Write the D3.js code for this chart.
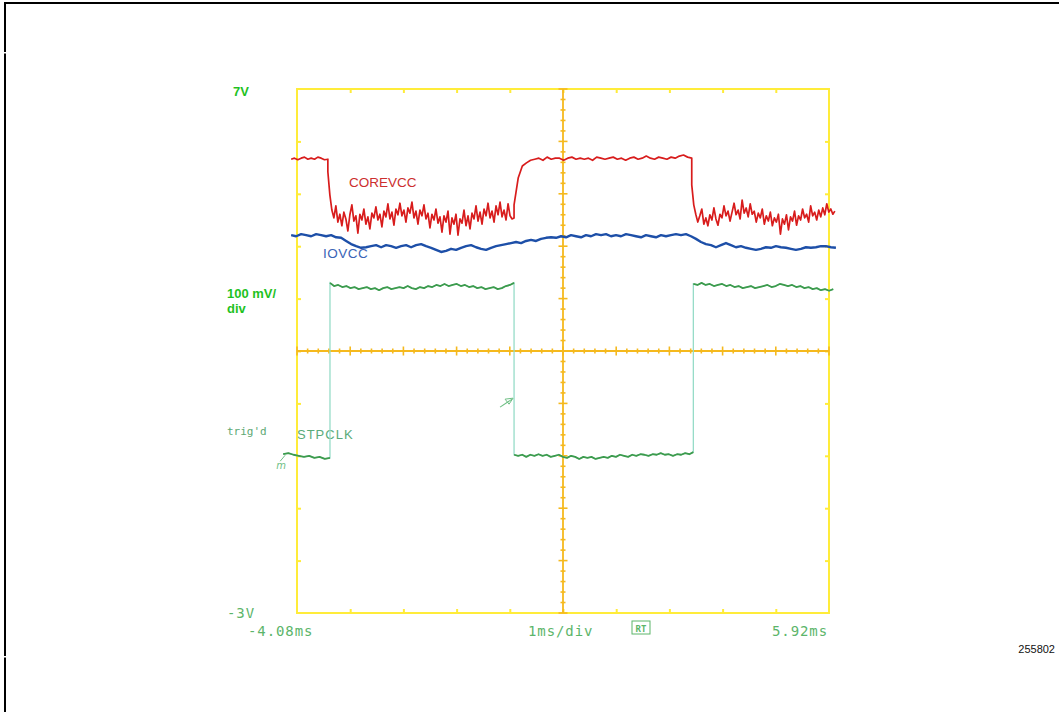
<!DOCTYPE html>
<html>
<head>
<meta charset="utf-8">
<script src="https://cdn.jsdelivr.net/npm/d3@7"></script>
<style>
  html, body { margin: 0; padding: 0; background: #fff; }
  svg { display: block; }
</style>
</head>
<body>
<svg id="scope" width="1059" height="712"></svg>
<script>
// ---- sweep and screen settings ----
const sweepStartMs = -4.08;
const msPerDiv = 1;
const hDivisions = 10;
const voltRange = [-3, 7];              // bottom / top of screen, 1 V per division
const centreTimeMs = 0.92;
const centreVolt = 2;
const timeLabels = ["-4.08ms", "1ms/div", "5.92ms"];
const voltLabels = ["7V", "-3V"];
const sensitivityLabel = ["100 mV/", "div"];
const trigLabel = "trig'd";
const trigLevel = 1.1;                  // STPCLK falling-edge trigger level
const figureId = "255802";

// ---- COREVCC: break times (ms) and the samples between consecutive breaks (V) ----
const coreVccBreaks = [-4.19, -3.50, 0.00, 3.34, 6.03];
const coreVccRun1 = [5.66,5.68,5.65,5.68,5.70,5.66,5.68,5.66,5.70,5.68,5.65,5.66];
const coreVccRun2 = [5.42,4.98,4.69,4.54,4.77,4.46,4.61,4.39,4.65,4.52,4.29,4.60,4.79,4.48,4.58,4.25,
  4.61,4.50,4.71,4.42,4.56,4.33,4.63,4.54,4.75,4.50,4.61,4.37,4.67,4.56,4.81,4.52,4.65,4.40,4.71,4.60,
  4.82,4.58,4.69,4.46,4.73,4.63,4.84,4.54,4.67,4.42,4.69,4.58,4.79,4.52,4.63,4.35,4.61,4.50,4.71,4.44,
  4.56,4.27,4.58,4.46,4.67,4.23,4.54,4.42,4.61,4.21,4.52,4.44,4.69,4.39,4.58,4.33,4.63,4.52,4.77,4.48,
  4.65,4.42,4.71,4.58,4.82,4.54,4.67,4.46,4.77,4.60,4.84,4.56,4.69,4.50,4.81,4.58,4.52,4.54];
const coreVccRun3 = [4.79,5.30,5.53,5.59,5.64,5.66,5.68,5.64,5.70,5.66,5.68,5.68,5.64,5.68,5.70,5.66,
  5.68,5.66,5.68,5.64,5.70,5.68,5.66,5.68,5.70,5.66,5.68,5.64,5.68,5.70,5.66,5.68,5.72,5.68,5.66,5.70,
  5.68,5.66,5.70,5.68,5.72,5.74,5.70,5.68];
const coreVccRun4 = [5.17,4.79,4.61,4.46,4.58,4.71,4.42,4.54,4.39,4.60,4.50,4.73,4.52,4.40,4.61,4.54,
  4.77,4.58,4.67,4.48,4.65,4.82,4.60,4.69,4.52,4.88,4.63,4.73,4.56,4.81,4.61,4.67,4.46,4.63,4.54,4.71,
  4.42,4.58,4.48,4.65,4.39,4.54,4.46,4.61,4.23,4.52,4.42,4.60,4.31,4.56,4.48,4.67,4.40,4.58,4.50,4.71,
  4.54,4.61,4.46,4.77,4.58,4.65,4.50,4.69,4.56,4.73,4.60,4.81,4.65,4.71,4.61,4.67];
const coreVccRuns = [coreVccRun1, coreVccRun2, coreVccRun3, coreVccRun4];

// ---- IOVCC: one continuous record between its first and last sample times ----
const ioVccSpan = [-4.19, 6.05];
const ioVcc = [4.21,4.19,4.23,4.21,4.19,4.23,4.21,4.19,4.21,4.17,4.16,4.10,4.04,4.00,3.97,3.98,4.00,4.02,
  3.98,4.02,4.00,3.97,4.00,4.02,3.98,4.02,4.04,4.00,3.97,3.93,3.89,3.91,3.95,3.93,3.97,4.00,4.02,3.98,
  3.95,3.93,3.97,4.00,4.02,4.04,4.06,4.08,4.06,4.10,4.12,4.10,4.14,4.16,4.17,4.16,4.19,4.17,4.21,4.19,
  4.17,4.21,4.19,4.23,4.21,4.23,4.19,4.21,4.19,4.23,4.21,4.19,4.17,4.21,4.19,4.17,4.21,4.19,4.21,4.23,
  4.21,4.23,4.19,4.14,4.08,4.04,4.02,3.98,4.02,4.06,4.02,3.98,4.00,3.97,3.95,3.93,3.95,3.98,3.97,4.00,
  3.98,3.97,3.95,3.93,3.95,3.98,3.97,3.98,4.00,4.00,3.98,3.97];

// ---- STPCLK: break times (ms) and samples on each level (V) ----
const stpClkBreaks = [-4.34, -3.46, 0.00, 3.37, 6.00];
const stpClkRun1 = [0.03,0.05,0.02,0.00,-0.02,0.00,-0.04,-0.02,-0.06,-0.04];
const stpClkRun2 = [3.30,3.24,3.26,3.22,3.24,3.20,3.22,3.18,3.20,3.22,3.18,3.20,3.16,3.20,3.22,3.18,
  3.20,3.22,3.20,3.24,3.20,3.18,3.22,3.20,3.24,3.22,3.26,3.24,3.28,3.24,3.26,3.28,3.24,3.26,3.22,3.24,
  3.20,3.22,3.18,3.20,3.22,3.18,3.20,3.24,3.26,3.30];
const stpClkRun3 = [0.02,0.00,0.02,-0.02,0.02,0.00,0.03,0.00,0.02,-0.02,0.00,0.02,-0.02,-0.04,0.00,-0.02,
  -0.06,-0.02,-0.04,-0.02,-0.06,-0.04,-0.02,-0.04,0.00,-0.02,0.02,0.00,-0.02,0.02,0.00,0.03,0.02,0.00,
  0.03,0.02,0.05,0.02,0.03,0.00,0.03,0.02,0.05,0.03,0.07];
const stpClkRun4 = [3.28,3.26,3.30,3.26,3.28,3.24,3.26,3.28,3.24,3.26,3.22,3.24,3.20,3.22,3.24,3.20,
  3.22,3.24,3.26,3.22,3.24,3.28,3.26,3.24,3.26,3.22,3.24,3.20,3.22,3.18,3.20,3.16,3.18,3.15,3.18];
const stpClkRuns = [stpClkRun1, stpClkRun2, stpClkRun3, stpClkRun4];

// ---- colours ----
const frameColor = "#ffec3a";
const centreColor = "#f5b91e";
const coreColor = "#d81c1c";
const ioColor = "#1d4fa8";
const stpColor = "#3d9b4d";
const stpEdgeColor = "#97dcc8";
const scopeText = "#5cb56a";
const boldGreen = "#1fc21f";

const svg = d3.select("#scope");
const x = d3.scaleLinear()
  .domain([sweepStartMs, sweepStartMs + hDivisions * msPerDiv])
  .range([297, 829]);
const y = d3.scaleLinear().domain(voltRange).range([613, 89]);

// ---- page border (top and left rules) ----
svg.append("line").attr("x1", 4).attr("x2", 1059).attr("y1", 3).attr("y2", 3)
  .attr("stroke", "#000").attr("stroke-width", 2);
[[2, 52], [53.5, 656], [657.5, 712]].forEach(([a, b]) => {
  svg.append("line").attr("x1", 5).attr("x2", 5).attr("y1", a).attr("y2", b)
    .attr("stroke", "#000").attr("stroke-width", 2);
});

// ---- graticule ----
const divTimes = d3.range(hDivisions + 1).map(i => sweepStartMs + i * msPerDiv);
const divVolts = d3.range(voltRange[0], voltRange[1] + 0.001, 1);
const grid = svg.append("g");

function styleAxis(sel) {
  sel.select(".domain").remove();
  sel.selectAll(".tick line").attr("stroke", frameColor).attr("stroke-width", 2);
}
grid.append("g").attr("transform", `translate(0,${y(voltRange[1])})`)
  .call(d3.axisBottom(x).tickValues(divTimes.slice(1, -1)).tickSize(4).tickFormat(""))
  .call(styleAxis);
grid.append("g").attr("transform", `translate(0,${y(voltRange[0])})`)
  .call(d3.axisTop(x).tickValues(divTimes.slice(1, -1)).tickSize(4).tickFormat(""))
  .call(styleAxis);
grid.append("g").attr("transform", `translate(${x.range()[0]},0)`)
  .call(d3.axisRight(y).tickValues(divVolts.slice(1, -1)).tickSize(4).tickFormat(""))
  .call(styleAxis);
grid.append("g").attr("transform", `translate(${x.range()[1]},0)`)
  .call(d3.axisLeft(y).tickValues(divVolts.slice(1, -1)).tickSize(4).tickFormat(""))
  .call(styleAxis);

grid.append("rect")
  .attr("x", x.range()[0]).attr("y", y.range()[1])
  .attr("width", x.range()[1] - x.range()[0]).attr("height", y.range()[0] - y.range()[1])
  .attr("fill", "none").attr("stroke", frameColor).attr("stroke-width", 2);

// centre cross with 5 sub-divisions per division
const cy = y(centreVolt), cx = x(centreTimeMs);
grid.append("line").attr("x1", x.range()[0]).attr("x2", x.range()[1]).attr("y1", cy).attr("y2", cy)
  .attr("stroke", centreColor).attr("stroke-width", 1.8);
grid.append("line").attr("x1", cx).attr("x2", cx).attr("y1", y.range()[1]).attr("y2", y.range()[0])
  .attr("stroke", centreColor).attr("stroke-width", 1.8);
const subTimes = d3.range(hDivisions * 5 + 1).map(i => sweepStartMs + i * msPerDiv / 5);
const subVolts = d3.range((voltRange[1] - voltRange[0]) * 5 + 1).map(i => voltRange[0] + i / 5);
grid.selectAll("line.hsub").data(subTimes).join("line").attr("class", "hsub")
  .attr("x1", d => x(d)).attr("x2", d => x(d))
  .attr("y1", (d, i) => cy - (i % 5 === 0 ? 4.5 : 2.5))
  .attr("y2", (d, i) => cy + (i % 5 === 0 ? 4.5 : 2.5))
  .attr("stroke", centreColor).attr("stroke-width", 1.6);
grid.selectAll("line.vsub").data(subVolts).join("line").attr("class", "vsub")
  .attr("y1", d => y(d)).attr("y2", d => y(d))
  .attr("x1", (d, i) => cx - (i % 5 === 0 ? 4.5 : 2.5))
  .attr("x2", (d, i) => cx + (i % 5 === 0 ? 4.5 : 2.5))
  .attr("stroke", centreColor).attr("stroke-width", 1.6);

// ---- labels ----
const txt = (s, px, py, o) => {
  const t = svg.append("text").attr("x", px).attr("y", py).text(s);
  Object.entries(o).forEach(([k, v]) => t.attr(k, v));
  return t;
};
const boldFont = { "font-family": "Liberation Sans, Arial, sans-serif", "font-weight": "bold",
  "font-size": 13, fill: boldGreen };
const monoFont = { "font-family": "DejaVu Sans Mono, monospace", "font-size": 14,
  "letter-spacing": 0.9, fill: scopeText };

txt(voltLabels[0], 233, y(voltRange[1]) + 7, boldFont);
txt(sensitivityLabel[0], 227, 298, boldFont);
txt(sensitivityLabel[1], 227, 313, boldFont);
txt(trigLabel, 227, 435, { "font-family": "DejaVu Sans Mono, monospace", "font-size": 11,
  fill: "#5da873" });
txt(voltLabels[1], 227, y(voltRange[0]) + 5, monoFont);
txt(timeLabels[0], 248, 636, monoFont);
txt(timeLabels[1], 528, 636, monoFont);
txt(timeLabels[2], 828, 636, Object.assign({}, monoFont, { "text-anchor": "end" }));

// run-mode box
svg.append("rect").attr("x", 632).attr("y", 621).attr("width", 18).attr("height", 13)
  .attr("fill", "none").attr("stroke", scopeText).attr("stroke-width", 1);
txt("RT", 641, 631.5, { "font-family": "DejaVu Sans Mono, monospace", "font-size": 9,
  "text-anchor": "middle", fill: scopeText, "font-weight": "bold" });

txt(figureId, 1055, 653, { "font-family": "Liberation Sans, Arial, sans-serif", "font-size": 11,
  "text-anchor": "end", fill: "#111" });

txt("COREVCC", 349, 187, { "font-family": "Liberation Sans, Arial, sans-serif", "font-size": 13.5,
  fill: "#cc2e2e" });
txt("IOVCC", 323, 258, { "font-family": "Liberation Sans, Arial, sans-serif", "font-size": 13.5,
  "letter-spacing": 0.5, fill: "#3a64b6" });
txt("STPCLK", 297, 439, { "font-family": "Liberation Sans, Arial, sans-serif", "font-size": 13,
  "letter-spacing": 1, fill: "#5aab7a" });

// ---- traces ----
function runsToPoints(breaks, runs) {
  const pts = [];
  runs.forEach((run, k) => {
    const t0 = breaks[k], t1 = breaks[k + 1], n = run.length;
    run.forEach((v, j) => pts.push([t0 + (t1 - t0) * j / (n - 1), v]));
  });
  return pts;
}
const line = d3.line().x(d => x(d[0])).y(d => y(d[1]));

const ioPts = ioVcc.map((v, j) => [ioVccSpan[0] + (ioVccSpan[1] - ioVccSpan[0]) * j / (ioVcc.length - 1), v]);
svg.append("path").attr("d", line(ioPts)).attr("fill", "none")
  .attr("stroke", ioColor).attr("stroke-width", 2.4).attr("stroke-linejoin", "round");

svg.append("path").attr("d", line(runsToPoints(coreVccBreaks, coreVccRuns))).attr("fill", "none")
  .attr("stroke", coreColor).attr("stroke-width", 1.7).attr("stroke-linejoin", "round");

// STPCLK: faint fast edges, solid levels
svg.append("path").attr("d", line(runsToPoints(stpClkBreaks, stpClkRuns))).attr("fill", "none")
  .attr("stroke", stpEdgeColor).attr("stroke-width", 1.3);
stpClkRuns.forEach((run, k) => {
  svg.append("path").attr("d", line(runsToPoints(stpClkBreaks.slice(k, k + 2), [run])))
    .attr("fill", "none").attr("stroke", stpColor).attr("stroke-width", 1.8)
    .attr("stroke-linejoin", "round");
});

// trigger-level arrow pointing at the STPCLK falling edge
const ax = x(0), ay = y(trigLevel);
svg.append("line").attr("x1", ax - 14).attr("y1", ay + 9).attr("x2", ax - 2).attr("y2", ay + 1)
  .attr("stroke", "#6fbf85").attr("stroke-width", 1.1);
svg.append("path").attr("d", `M${ax - 1},${ay} L${ax - 9},${ay + 1} L${ax - 5},${ay + 6} Z`)
  .attr("fill", "none").attr("stroke", "#6fbf85").attr("stroke-width", 1);

// ground marker at the start of the STPCLK record
const gx = x(stpClkBreaks[0]), gy = y(stpClkRun1[0]);
svg.append("path").attr("d", `M${gx + 2},${gy + 1} L${gx - 3},${gy + 7}`)
  .attr("stroke", "#6fbf85").attr("stroke-width", 1).attr("fill", "none");
txt("m", gx - 7, gy + 15, { "font-family": "DejaVu Sans, sans-serif", "font-size": 10,
  "font-style": "italic", fill: "#6fbf85" });
</script>
</body>
</html>
